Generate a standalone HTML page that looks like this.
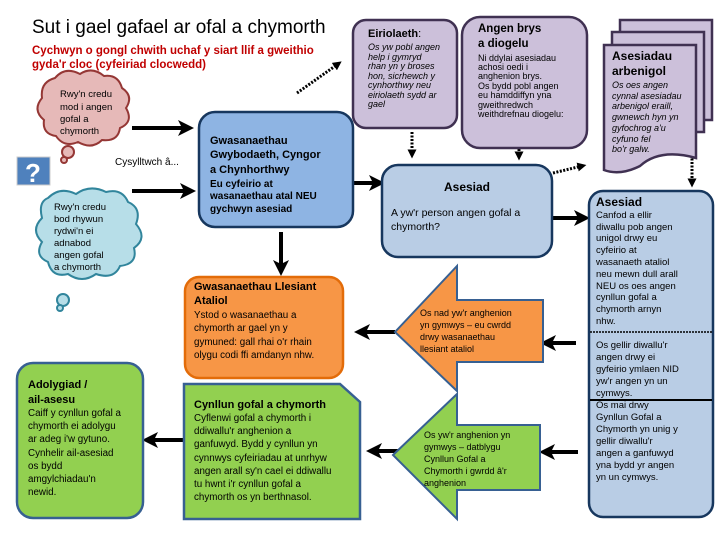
<!DOCTYPE html>
<html><head><meta charset="utf-8"><style>
body{margin:0;background:#fff;width:720px;height:540px;overflow:hidden}
svg{font-family:"Liberation Sans",sans-serif}
.b{font-weight:bold}
</style></head><body>
<svg width="720" height="540" viewBox="0 0 720 540">
<defs>
<marker id="ah" markerWidth="4" markerHeight="4" refX="2" refY="2" orient="auto"><path d="M0,0 L4,2 L0,4 L1,2z" fill="#000"/></marker>
<marker id="ad" markerWidth="3" markerHeight="3" refX="1.5" refY="1.5" orient="auto"><path d="M0,0 L3,1.5 L0,3z" fill="#000"/></marker>
</defs>
<text x="32" y="33" font-size="19">Sut i gael gafael ar ofal a chymorth</text>
<text x="32" y="54" font-size="11.5" class="b" fill="#c00000">Cychwyn o gongl chwith uchaf y siart llif  a gweithio</text>
<text x="32" y="68" font-size="11.5" class="b" fill="#c00000">gyda'r cloc (cyfeiriad clocwedd)</text>

<!-- pink cloud -->
<g fill="#e6b9b8" stroke="#953735" stroke-width="2">
<path d="M55,78 q10,-12 25,-4 q12,-8 24,2 q14,-2 18,12 q12,8 4,20 q8,14 -6,20 q-2,14 -18,12 q-10,10 -24,2 q-14,6 -22,-6 q-14,-2 -12,-16 q-12,-10 -2,-22 q-2,-16 13,-20z"/>
<circle cx="68" cy="152" r="6"/><circle cx="64" cy="160" r="3"/>
</g>
<g font-size="9.5" fill="#000"><text x="60" y="97">Rwy'n credu</text><text x="60" y="110">mod i angen</text><text x="60" y="122">gofal a</text><text x="60" y="134">chymorth</text></g>
<!-- question icon -->
<rect x="17" y="157" width="33" height="28" fill="#4f81bd" stroke="#ccc"/>
<text x="33" y="182" font-size="26" class="b" fill="#fff" text-anchor="middle">?</text>
<text x="115" y="165" font-size="10">Cysylltwch â...</text>
<!-- blue cloud -->
<g fill="#b7dee8" stroke="#31859c" stroke-width="2">
<path d="M48,198 q12,-12 28,-4 q14,-10 30,-2 q16,-4 22,10 q14,6 8,22 q12,14 -2,24 q4,16 -14,18 q-6,14 -24,8 q-14,10 -28,0 q-16,4 -20,-12 q-14,-6 -6,-20 q-12,-12 0,-24 q-4,-16 6,-20z"/>
<circle cx="63" cy="300" r="6"/><circle cx="60" cy="308" r="3"/>
</g>
<g font-size="9.5"><text x="54" y="210">Rwy'n credu</text><text x="54" y="222">bod rhywun</text><text x="54" y="234">rydwi'n ei</text><text x="54" y="246">adnabod</text><text x="54" y="258">angen gofal</text><text x="54" y="270">a chymorth</text></g>

<g stroke="#000" stroke-width="4" marker-end="url(#ah)">
<line x1="132" y1="128" x2="186" y2="128"/>
<line x1="132" y1="191" x2="188" y2="191"/>
<line x1="281" y1="232" x2="281" y2="268"/>
<line x1="353" y1="183" x2="377" y2="183"/>
<line x1="553" y1="218" x2="582" y2="218"/>
<line x1="183" y1="440" x2="150" y2="440"/>
<line x1="395" y1="332" x2="362" y2="332"/>
<line x1="576" y1="343" x2="548" y2="343"/>
<line x1="405" y1="451" x2="374" y2="451"/>
<line x1="578" y1="452" x2="547" y2="452"/>
</g>
<g stroke="#000" stroke-width="3" stroke-dasharray="2,1.5" marker-end="url(#ad)">
<line x1="297" y1="93" x2="338" y2="64"/>
<line x1="412" y1="132" x2="412" y2="154"/>
<line x1="519" y1="142" x2="519" y2="156"/>
<line x1="553" y1="173" x2="582" y2="166"/>
<line x1="692" y1="155" x2="692" y2="183"/>
</g>

<!-- main blue -->
<rect x="199" y="112" width="154" height="115" rx="16" fill="#8eb4e3" stroke="#17375e" stroke-width="2.5"/>
<g font-size="11" class="b"><text x="210" y="144">Gwasanaethau</text><text x="210" y="158">Gwybodaeth, Cyngor</text><text x="210" y="173">a Chynhorthwy</text></g>
<g font-size="10" class="b"><text x="210" y="187">Eu cyfeirio at</text><text x="210" y="199">wasanaethau atal NEU</text><text x="210" y="212">gychwyn asesiad</text></g>

<!-- orange -->
<rect x="185" y="277" width="158" height="101" rx="14" fill="#f79646" stroke="#e36c09" stroke-width="2.5"/>
<g font-size="11" class="b"><text x="194" y="290">Gwasanaethau Llesiant</text><text x="194" y="304">Ataliol</text></g>
<g font-size="9.8"><text x="194" y="318">Ystod o wasanaethau a</text><text x="194" y="331">chymorth ar gael yn y</text><text x="194" y="345">gymuned: gall rhai o'r rhain</text><text x="194" y="358">olygu codi ffi amdanyn nhw.</text></g>

<!-- green adolygiad -->
<rect x="17" y="363" width="126" height="155" rx="16" fill="#92d050" stroke="#376092" stroke-width="2.5"/>
<g font-size="11" class="b"><text x="28" y="388">Adolygiad  /</text><text x="28" y="403">ail-asesu</text></g>
<g font-size="9.8"><text x="28" y="416">Caiff y cynllun gofal a</text><text x="28" y="429">chymorth ei adolygu</text><text x="28" y="442">ar adeg i'w gytuno.</text><text x="28" y="456">Cynhelir ail-asesiad</text><text x="28" y="469">os bydd</text><text x="28" y="482">amgylchiadau'n</text><text x="28" y="495">newid.</text></g>

<!-- green cynllun -->
<path d="M184,384 L340,384 L360,402 L360,519 L184,519z" fill="#92d050" stroke="#376092" stroke-width="2.5"/>
<text x="194" y="408" font-size="11" class="b">Cynllun gofal a chymorth</text>
<g font-size="9.8"><text x="194" y="421">Cyflenwi gofal a chymorth i</text><text x="194" y="434">ddiwallu'r anghenion a</text><text x="194" y="447">ganfuwyd. Bydd y cynllun yn</text><text x="194" y="461">cynnwys cyfeiriadau at unrhyw</text><text x="194" y="474">angen arall sy'n cael ei ddiwallu</text><text x="194" y="487">tu hwnt i'r cynllun gofal a</text><text x="194" y="500">chymorth os yn berthnasol.</text></g>

<!-- big arrows -->
<path d="M395,332 L457,266 L457,300 L543,300 L543,362 L457,362 L457,391z" fill="#f79646" stroke="#376092" stroke-width="2"/>
<g font-size="9"><text x="420" y="316">Os nad yw'r anghenion</text><text x="420" y="328">yn gymwys – eu cwrdd</text><text x="420" y="340">drwy wasanaethau</text><text x="420" y="352">llesiant ataliol</text></g>
<path d="M393,455 L457,394 L457,425 L540,425 L540,490 L457,490 L457,519z" fill="#92d050" stroke="#376092" stroke-width="2"/>
<g font-size="9"><text x="424" y="438">Os yw'r anghenion yn</text><text x="424" y="450">gymwys – datblygu</text><text x="424" y="462">Cynllun Gofal a</text><text x="424" y="474">Chymorth i gwrdd â'r</text><text x="424" y="486">anghenion</text></g>

<!-- purple boxes -->
<rect x="353" y="20" width="104" height="108" rx="13" fill="#ccc0da" stroke="#403152" stroke-width="2.5"/>
<text x="368" y="37" font-size="11" class="b">Eiriolaeth<tspan font-weight="normal">:</tspan></text>
<g font-size="9" font-style="italic"><text x="368" y="50">Os yw pobl angen</text><text x="368" y="60">help i gymryd</text><text x="368" y="69">rhan yn y broses</text><text x="368" y="79">hon, sicrhewch y</text><text x="368" y="88">cynhorthwy neu</text><text x="368" y="98">eiriolaeth sydd ar</text><text x="368" y="107">gael</text></g>
<rect x="462" y="17" width="125" height="131" rx="18" fill="#ccc0da" stroke="#403152" stroke-width="2.5"/>
<g font-size="11.5" class="b"><text x="478" y="32">Angen brys</text><text x="478" y="47">a diogelu</text></g>
<g font-size="9"><text x="478" y="61">Ni ddylai asesiadau</text><text x="478" y="70">achosi oedi i</text><text x="478" y="79">anghenion brys.</text><text x="478" y="89">Os bydd pobl angen</text><text x="478" y="98">eu hamddiffyn yna</text><text x="478" y="108">gweithredwch</text><text x="478" y="117">weithdrefnau diogelu:</text></g>
<g fill="#ccc0da" stroke="#403152" stroke-width="2.5">
<rect x="620" y="20" width="92" height="100"/>
<rect x="612" y="32" width="92" height="100"/>
<path d="M604,45 L696,45 L696,158 Q660,148 640,166 Q620,176 604,170z"/>
</g>
<g font-size="12" class="b"><text x="612" y="60">Asesiadau</text><text x="612" y="75">arbenigol</text></g>
<g font-size="9" font-style="italic"><text x="612" y="88">Os oes angen</text><text x="612" y="99">cynnal asesiadau</text><text x="612" y="109">arbenigol eraill,</text><text x="612" y="120">gwnewch hyn yn</text><text x="612" y="131">gyfochrog a'u</text><text x="612" y="142">cyfuno fel</text><text x="612" y="152">bo'r galw.</text></g>

<!-- asesiad middle -->
<rect x="382" y="165" width="170" height="92" rx="16" fill="#b9cde5" stroke="#17375e" stroke-width="2.5"/>
<text x="467" y="191" font-size="12" class="b" text-anchor="middle">Asesiad</text>
<g font-size="10.5"><text x="391" y="216">A yw'r person angen gofal a</text><text x="391" y="230">chymorth?</text></g>

<!-- asesiad right -->
<rect x="589" y="191" width="124" height="326" rx="14" fill="#b9cde5" stroke="#17375e" stroke-width="2.5"/>
<text x="596" y="206" font-size="12" class="b">Asesiad</text>
<g font-size="9.5">
<text x="596" y="218">Canfod a ellir</text><text x="596" y="230">diwallu pob angen</text><text x="596" y="241">unigol drwy eu</text><text x="596" y="253">cyfeirio at</text><text x="596" y="265">wasanaeth ataliol</text><text x="596" y="277">neu mewn dull arall</text><text x="596" y="289">NEU os oes angen</text><text x="596" y="300">cynllun gofal a</text><text x="596" y="312">chymorth arnyn</text><text x="596" y="324">nhw.</text>
<text x="596" y="348">Os gellir diwallu'r</text><text x="596" y="360">angen drwy ei</text><text x="596" y="372">gyfeirio ymlaen NID</text><text x="596" y="384">yw'r angen yn un</text><text x="596" y="396">cymwys.</text>
<text x="596" y="408">Os mai drwy</text><text x="596" y="420">Gynllun Gofal a</text><text x="596" y="432">Chymorth yn unig y</text><text x="596" y="444">gellir diwallu'r</text><text x="596" y="456">angen a ganfuwyd</text><text x="596" y="468">yna bydd yr angen</text><text x="596" y="480">yn un cymwys.</text>
</g>
<line x1="590" y1="332" x2="712" y2="332" stroke="#000" stroke-width="1.5" stroke-dasharray="2,1"/>
<line x1="590" y1="400" x2="712" y2="400" stroke="#000" stroke-width="2"/>
</svg>
</body></html>
